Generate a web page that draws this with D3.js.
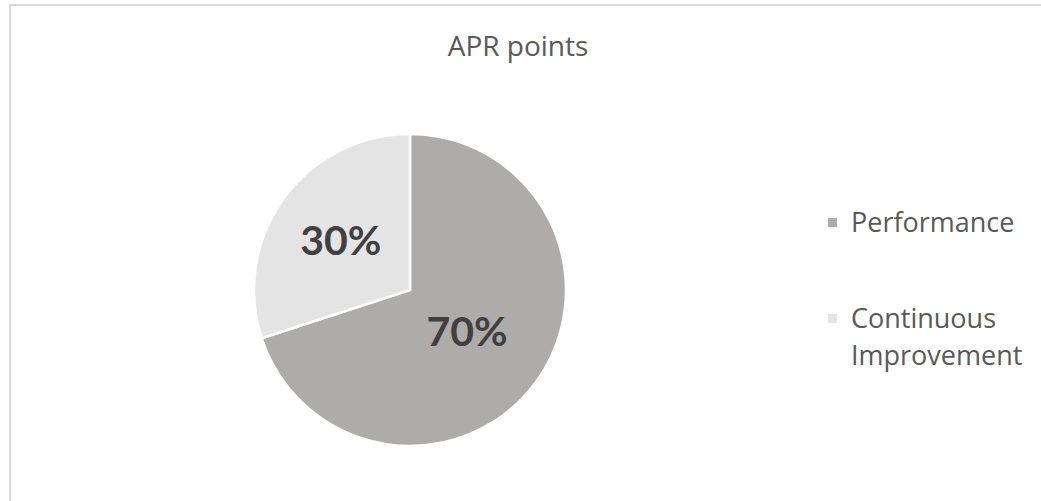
<!DOCTYPE html>
<html>
<head>
<meta charset="utf-8">
<script src="https://cdn.jsdelivr.net/npm/d3@7"></script>
<style>
  body { margin: 0; background: #fff; }
  svg { display: block; font-family: "Open Sans", Lato, sans-serif; }
</style>
</head>
<body>
<svg id="chart" width="1041" height="501"></svg>
<script>
// chart data
const categories = ["Performance", "Continuous Improvement"];
const values = [70, 30];
const colors = ["#aeabab", "#e4e4e4"];
const title = "APR points";

const svg = d3.select("#chart");

// light frame around the chart area (runs off right and bottom)
svg.append("rect")
  .attr("x", 10).attr("y", 5)
  .attr("width", 1040).attr("height", 510)
  .attr("fill", "#fff")
  .attr("stroke", "#d9d9d9")
  .attr("stroke-width", 2);

svg.append("text")
  .attr("x", 518).attr("y", 56)
  .attr("text-anchor", "middle")
  .attr("fill", "#595959")
  .attr("font-size", 28)
  .text(title);

const cx = 410, cy = 290, r = 156;
const total = d3.sum(values);

const pie = d3.pie().sort(null).value(d => d);
const arc = d3.arc().innerRadius(0).outerRadius(r);

const g = svg.append("g").attr("transform", `translate(${cx},${cy})`);

const slices = pie(values);

g.selectAll("path.slice")
  .data(slices)
  .enter()
  .append("path")
  .attr("class", "slice")
  .attr("d", arc)
  .attr("fill", (d, i) => colors[i])
  .attr("stroke", "#fff")
  .attr("stroke-width", 2.5)
  .attr("stroke-linejoin", "round");

// labels sit a little further out on smaller slices (like excel best fit)
g.selectAll("text.pct")
  .data(slices)
  .enter()
  .append("text")
  .attr("class", "pct")
  .attr("transform", d => {
    const frac = d.value / total;
    const lr = r * (0.62 - 0.24 * frac);
    const c = d3.arc().innerRadius(lr).outerRadius(lr).centroid(d);
    return `translate(${c})`;
  })
  .attr("text-anchor", "middle")
  .attr("dy", "0.36em")
  .attr("fill", "#404040")
  .attr("font-family", "Lato, sans-serif")
  .attr("font-size", 41)
  .attr("font-weight", "bold")
  .text(d => Math.round(d.value / total * 100) + "%");

// legend
const legend = svg.append("g").attr("transform", "translate(828,0)");
const legendY = [222, 318];
const lineH = 37;

categories.forEach((name, i) => {
  const item = legend.append("g").attr("transform", `translate(0,${legendY[i]})`);
  item.append("rect")
    .attr("x", 0).attr("y", -4)
    .attr("width", 9).attr("height", 9)
    .attr("fill", colors[i]);
  const words = name.split(" ");
  const t = item.append("text")
    .attr("fill", "#595959")
    .attr("font-size", 27);
  words.forEach((w, j) => {
    t.append("tspan")
      .attr("x", 23)
      .attr("y", j * lineH)
      .attr("dy", "0.36em")
      .text(w);
  });
});
</script>
</body>
</html>
